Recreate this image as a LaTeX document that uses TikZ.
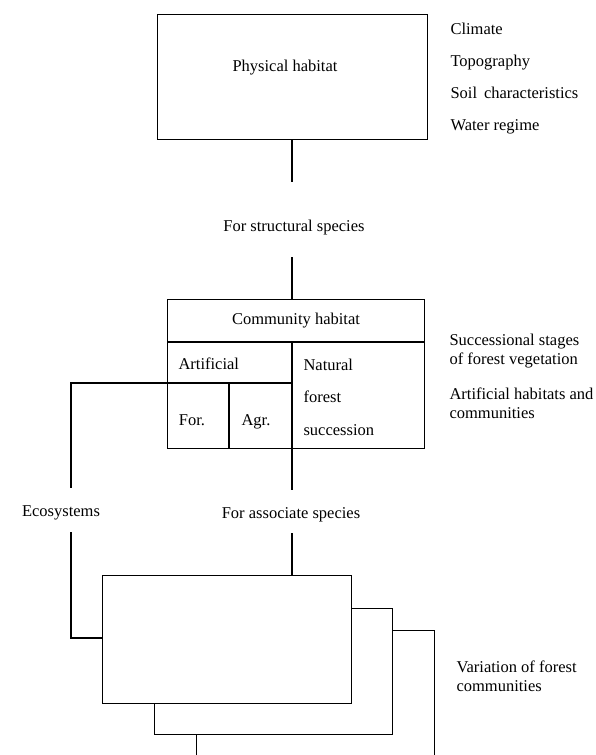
\documentclass[tikz,border=0pt]{standalone}
\usepackage{fontspec}
\setmainfont{Liberation Serif}
\begin{document}
\begin{tikzpicture}[x=1pt,y=-1pt,line width=1.1pt,
  txt/.style={inner sep=0pt,font=\fontsize{16.5}{19}\selectfont},
  ltxt/.style={txt,anchor=west,align=left},
  btxt/.style={txt,anchor=base west},
  box/.style={draw,fill=white,rectangle,inner sep=0pt,anchor=north west}]
\useasboundingbox (0,0) rectangle (595,755);

% Physical habitat
\node[box,minimum width=270pt,minimum height=125pt] (phys) at (157,14) {};
\node[txt] (physt) at (285,68) {Physical habitat};
\node[btxt] (clim) at (450,34) {Climate};
\node[btxt] (topo) at (450,66) {Topography};
\node[btxt] (soil) at (450,98) {Soil\, characteristics};
\node[btxt] (water) at (450,130) {Water regime};

\coordinate (c1) at (292,182);
\draw (c1 |- phys.south) -- (c1);
\node[txt] (struct) at (294,228) {For structural species};
\coordinate (c2) at (292,257);

% Community habitat
\node[box,minimum width=257pt,minimum height=149pt] (comm) at (167,299) {};
\draw (c2) -- (c2 |- comm.north);
\coordinate (hsep) at (167,342);
\coordinate (asep) at (292,383);
\coordinate (fsep) at (229,448);
\draw (comm.west |- hsep) -- (comm.east |- hsep);
\draw (asep |- hsep) -- (asep |- comm.south);
\draw (comm.west |- asep) -- (asep);
\draw (fsep |- asep) -- (fsep);
\node[txt] (commt) at (296,321) {Community habitat};
\node[btxt] (art) at (178,369) {Artificial};
\node[btxt] (nat) at (303,370) {Natural};
\node[btxt] (forst) at (303,402) {forest};
\node[btxt] (succ) at (303,435) {succession};
\node[txt,anchor=base] (for) at (192,425) {For.};
\node[txt,anchor=base] (agr) at (256,425) {Agr.};
\node[ltxt] (sst) at (449,351) {Successional stages\\of forest vegetation};
\node[ltxt] (ahc) at (449,403) {Artificial habitats and\\communities};

% connectors below community box
\coordinate (c3) at (292,490);
\draw (c3 |- comm.south) -- (c3);
\node[txt] (assoc) at (291,515) {For associate species};
\coordinate (c4) at (292,533);
\coordinate (e1) at (71,383);
\coordinate (e2) at (71,488);
\draw (comm.west |- e1) -- (e1) -- (e2);
\node[txt] (eco) at (61,513) {Ecosystems};
\coordinate (e3) at (71,532);
\coordinate (e4) at (71,638);

% stacked community boxes
\node[box,minimum width=238pt,minimum height=140pt] (b3) at (196,630) {};
\node[box,minimum width=238pt,minimum height=126pt] (b2) at (154,608) {};
\node[box,minimum width=249pt,minimum height=128pt] (b1) at (102,575) {};
\draw (c4) -- (c4 |- b1.north);
\draw (e3) -- (e4) -- (e4 -| b1.west);
\node[ltxt] (var) at (456,676) {Variation of forest\\communities};
\end{tikzpicture}
\end{document}
